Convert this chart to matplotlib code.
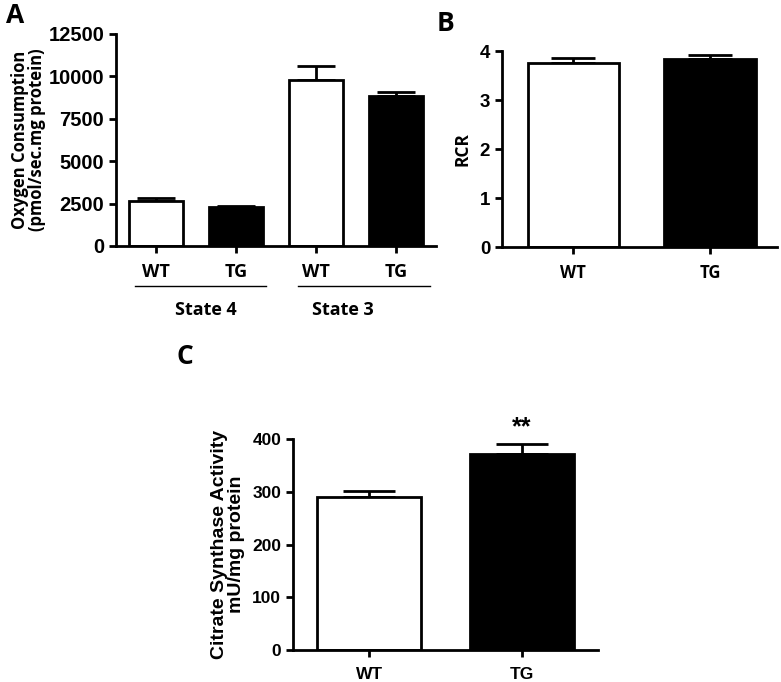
import matplotlib
matplotlib.use("Agg")
import matplotlib.pyplot as plt
from matplotlib.transforms import blended_transform_factory

# ---- data ----
# panel A: oxygen consumption
a_labels = ["WT", "TG", "WT", "TG"]
a_values = [2650, 2310, 9790, 8870]
a_err = [180, 70, 820, 210]
a_colors = ["white", "black", "white", "black"]
a_groups = ["State 4", "State 3"]
a_yticks = [0, 2500, 5000, 7500, 10000, 12500]

# panel B: RCR
b_labels = ["WT", "TG"]
b_values = [3.75, 3.84]
b_err = [0.10, 0.07]
b_yticks = [0, 1, 2, 3, 4]

# panel C: citrate synthase activity
c_labels = ["WT", "TG"]
c_values = [290, 372]
c_err = [12, 19]
c_yticks = [0, 100, 200, 300, 400]

NUM_FONT = "Liberation Sans"
TXT_FONT = "Open Sans"

plt.rcParams["font.family"] = NUM_FONT
plt.rcParams["font.weight"] = "bold"

fig = plt.figure(figsize=(7.81, 6.82), dpi=100)


def style_axes(ax, yticks, num_size):
    for s in ["top", "right"]:
        ax.spines[s].set_visible(False)
    for s in ["left", "bottom"]:
        ax.spines[s].set_linewidth(2)
    ax.tick_params(axis="both", width=2, length=5, direction="out")
    ax.set_yticks(yticks)
    ax.tick_params(axis="y", labelsize=num_size)


def draw_bars(ax, values, errs, colors, width, capsize):
    x = list(range(len(values)))
    ax.bar(x, values, width=width, color=colors, edgecolor="black", linewidth=2, zorder=2)
    # only the upper half of the error bar, as in the original
    ax.errorbar(x, values, yerr=[[0] * len(errs), errs], fmt="none", ecolor="black",
                elinewidth=2, capsize=capsize, capthick=2, zorder=1)
    return x


# ---------- panel A ----------
axA = fig.add_axes([0.1485, 0.6393, 0.4097, 0.3109])
xA = draw_bars(axA, a_values, a_err, a_colors, 0.67, 14)
axA.set_xlim(-0.5, 3.5)
axA.set_ylim(0, 12500)
style_axes(axA, a_yticks, 14.5)
axA.set_xticks(xA)
axA.set_xticklabels(a_labels, fontfamily=TXT_FONT, fontweight="bold", fontsize=13)
axA.tick_params(axis="x", pad=7)
axA.set_ylabel("Oxygen Consumption\n(pmol/sec.mg protein)", fontfamily=TXT_FONT,
               fontweight="bold", fontsize=12, linespacing=0.95, labelpad=1.5)
trA = blended_transform_factory(axA.transData, axA.transAxes)
group_lines = [(-0.26, 1.38), (1.78, 3.43)]
group_text_x = [0.62, 2.34]
for (x0, x1), gx, name in zip(group_lines, group_text_x, a_groups):
    axA.plot([x0, x1], [-0.19, -0.19], color="black", lw=1, transform=trA, clip_on=False)
    axA.text(gx, -0.30, name, transform=trA, ha="center", va="center",
             fontfamily=TXT_FONT, fontweight="bold", fontsize=13)
fig.text(0.019, 0.978, "A", fontfamily=TXT_FONT, fontweight="bold", fontsize=19,
         ha="center", va="center")

# ---------- panel B ----------
axB = fig.add_axes([0.6428, 0.6378, 0.3522, 0.2874])
xB = draw_bars(axB, b_values, b_err, ["white", "black"], 0.667, 16)
axB.set_xlim(-0.52, 1.49)
axB.set_ylim(0, 4)
style_axes(axB, b_yticks, 13.5)
axB.set_xticks(xB)
axB.set_xticklabels(b_labels, fontfamily=TXT_FONT, fontweight="bold", fontsize=12)
axB.tick_params(axis="x", pad=7)
axB.set_ylabel("RCR", fontfamily=TXT_FONT, fontweight="bold", fontsize=12.5, labelpad=6)
fig.text(0.571, 0.966, "B", fontfamily=TXT_FONT, fontweight="bold", fontsize=19,
         ha="center", va="center")

# ---------- panel C ----------
axC = fig.add_axes([0.3752, 0.0469, 0.3905, 0.3094])
xC = draw_bars(axC, c_values, c_err, ["white", "black"], 0.684, 19)
axC.set_xlim(-0.5, 1.5)
axC.set_ylim(0, 400)
style_axes(axC, c_yticks, 12.5)
axC.set_xticks(xC)
axC.set_xticklabels(c_labels, fontfamily=NUM_FONT, fontweight="bold", fontsize=12.5)
axC.tick_params(axis="x", pad=7)
axC.set_ylabel("Citrate Synthase Activity\nmU/mg protein", fontfamily=NUM_FONT,
               fontweight="bold", fontsize=14, linespacing=1.0, labelpad=5)
axC.annotate("**", xy=(1, c_values[1] + c_err[1]), xytext=(0, 3), textcoords="offset points",
             ha="center", va="bottom", fontfamily=NUM_FONT, fontweight="bold", fontsize=18,
             annotation_clip=False)
fig.text(0.237, 0.478, "C", fontfamily=TXT_FONT, fontweight="bold", fontsize=19,
         ha="center", va="center")

fig.savefig("out.png", dpi=100)
